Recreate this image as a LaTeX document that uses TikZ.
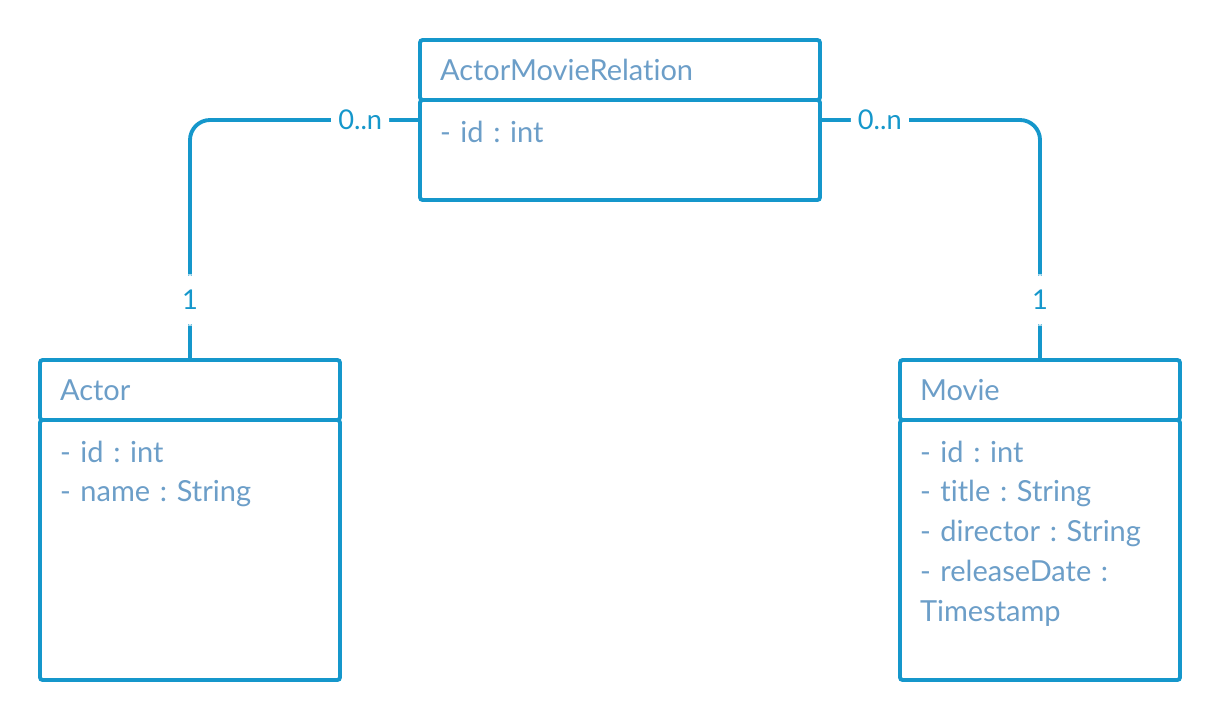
\documentclass[tikz,border=0pt]{standalone}
\usepackage{fontspec}
\setmainfont{Lato}[Ligatures=NoCommon]
\usepackage{tikz}
\usetikzlibrary{positioning}
\frenchspacing

\definecolor{umlline}{RGB}{21,151,203}
\definecolor{umltext}{RGB}{108,158,200}

\begin{document}
\begin{tikzpicture}[
    classhead/.style={
        rectangle,
        draw=umlline,
        line width=2.2pt,
        rounded corners=1.5pt,
        outer sep=0pt,
        inner xsep=0.4cm,
        inner ysep=0pt,
        minimum height=1.2cm,
        align=left,
        anchor=north west,
        text=umltext,
        font=\fontsize{16.5}{22.7}\selectfont
    },
    classbody/.style={
        classhead,
        minimum height=0pt,
        text height=0.84cm
    },
    link/.style={draw=umlline, line width=2.2pt, rounded corners=0.4cm},
    card/.style={
        fill=white,
        inner xsep=4pt,
        inner ysep=9pt,
        text=umlline,
        font=\fontsize{15.5}{18}\selectfont
    }
]

\useasboundingbox (0,0) rectangle (24.4,-14.4);

% association class
\node (relhead) [classhead, text width=7.2cm] at (8.4,-0.8) {ActorMovieRelation};
\node (relbody) [classbody, text width=7.2cm, text depth=1.16cm, below=0pt of relhead]
    {- id : int};

% Actor
\node (actorhead) [classhead, text width=5.2cm] at (0.8,-7.2) {Actor};
\node (actorbody) [classbody, text width=5.2cm, text depth=4.36cm, below=0pt of actorhead]
    {- id : int\\- name : String};

% Movie
\node (moviehead) [classhead, text width=4.8cm] at (18,-7.2) {Movie};
\node (moviebody) [classbody, text width=4.8cm, text depth=4.36cm, below=0pt of moviehead]
    {- id : int\\- title : String\\- director : String\\- releaseDate :\\Timestamp};

\draw [link] ([yshift=-0.4cm]relbody.north west) -| (actorhead.north)
    node [card, pos=0.13] (cardrelL) {0..n}
    node [card, pos=0.875] (cardactor) {1};
\draw [link] ([yshift=-0.4cm]relbody.north east) -| (moviehead.north)
    node [card, pos=0.136] (cardrelR) {0..n}
    node [card, pos=0.875] (cardmovie) {1};

\end{tikzpicture}
\end{document}
